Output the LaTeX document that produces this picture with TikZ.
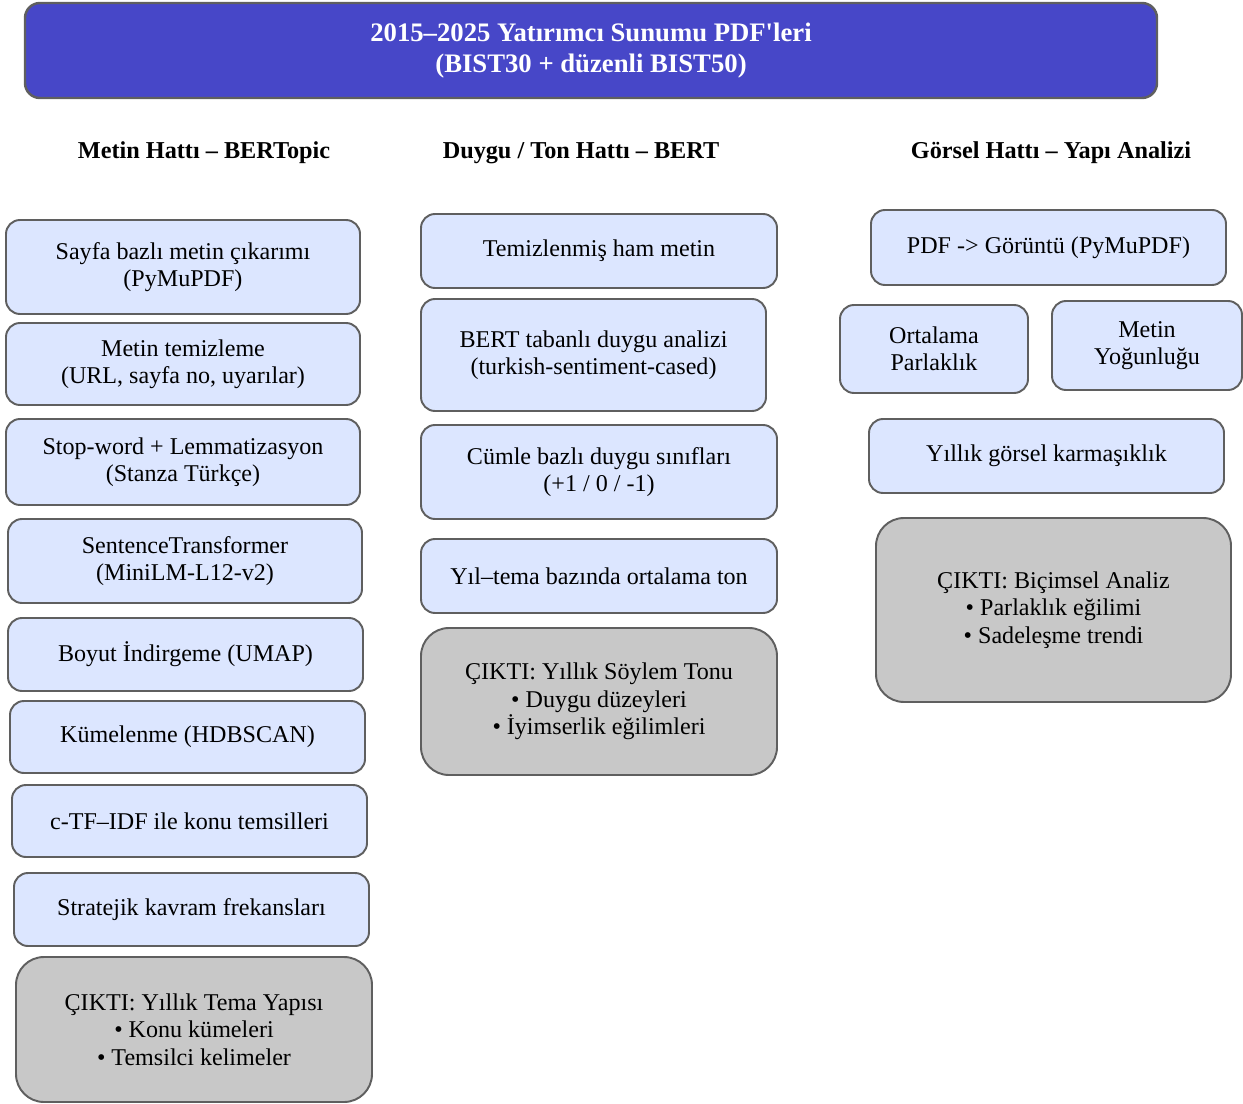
\documentclass[tikz,border=0pt]{standalone}
\usepackage{fontspec}
\setmainfont{Liberation Serif}
\usepackage{tikz}
\usetikzlibrary{positioning}

\definecolor{headblue}{RGB}{71,71,200}
\definecolor{stepfill}{RGB}{220,230,255}
\definecolor{outfill}{RGB}{200,200,200}
\definecolor{boxline}{RGB}{95,95,95}

\begin{document}
\begin{tikzpicture}[x=0.02cm,y=-0.02cm,
    headbox/.style={draw=boxline,line width=1.4pt,rounded corners=0.3cm,fill=headblue,
        text=white,font=\fontsize{15.2}{17.6}\selectfont\bfseries,align=center,inner sep=0pt},
    colhead/.style={font=\fontsize{13.8}{15}\selectfont\bfseries,inner sep=0pt},
    stepbox/.style={draw=boxline,line width=1.1pt,rounded corners=0.28cm,fill=stepfill,
        font=\fontsize{13.7}{15.4}\selectfont,align=center,inner sep=0pt},
    outbox/.style={draw=boxline,line width=1.1pt,rounded corners=0.56cm,fill=outfill,
        font=\fontsize{13.7}{15.6}\selectfont,align=center,inner sep=0pt}]
    \def\u{0.02cm}
    \useasboundingbox (0,0) rectangle (1243,1104);

    % header
    \node[headbox,minimum width=1132*\u,minimum height=95*\u] (src) at (591,50.5)
        {2015--2025 Yatırımcı Sunumu PDF\textquotesingle leri\\(BIST30 + düzenli BIST50)};

    % column headings
    \node[colhead] (hText) at (204,153) {Metin Hattı -- BERTopic};
    \node[colhead] (hTone) at (581,153) {Duygu / Ton Hattı -- BERT};
    \node[colhead] (hVis) at (1051,153) {Görsel Hattı -- Yapı Analizi};

    % text pipeline
    \node[stepbox,minimum width=354*\u,minimum height=94*\u] (tExtract) at (183,267)
        {Sayfa bazlı metin çıkarımı\\(PyMuPDF)};
    \node[stepbox,minimum width=354*\u,minimum height=82*\u] (tClean) at (183,364)
        {Metin temizleme\\(URL, sayfa no, uyarılar)};
    \node[stepbox,minimum width=354*\u,minimum height=86*\u] (tLemma) at (183,462)
        {Stop-word + Lemmatizasyon\\(Stanza Türkçe)};
    \node[stepbox,minimum width=354*\u,minimum height=84*\u] (tEmbed) at (185,561)
        {SentenceTransformer\\(MiniLM-L12-v2)};
    \node[stepbox,minimum width=355*\u,minimum height=73*\u] (tUmap) at (185.5,654.5)
        {Boyut İndirgeme (UMAP)};
    \node[stepbox,minimum width=355*\u,minimum height=72*\u] (tCluster) at (187.5,737)
        {Kümelenme (HDBSCAN)};
    \node[stepbox,minimum width=355*\u,minimum height=72*\u] (tCtfidf) at (189.5,821)
        {c-TF--IDF ile konu temsilleri};
    \node[stepbox,minimum width=355*\u,minimum height=73*\u] (tFreq) at (191.5,909.5)
        {Stratejik kavram frekansları};
    \node[outbox,minimum width=356*\u,minimum height=145*\u] (tOut) at (194,1029.5)
        {ÇIKTI: Yıllık Tema Yapısı\\• Konu kümeleri\\• Temsilci kelimeler};

    % tone pipeline
    \node[stepbox,minimum width=356*\u,minimum height=74*\u] (sRaw) at (599,251)
        {Temizlenmiş ham metin};
    \node[stepbox,minimum width=345*\u,minimum height=112*\u] (sBert) at (593.5,355)
        {BERT tabanlı duygu analizi\\(turkish-sentiment-cased)};
    \node[stepbox,minimum width=356*\u,minimum height=94*\u] (sClass) at (599,472)
        {Cümle bazlı duygu sınıfları\\(+1 / 0 / -1)};
    \node[stepbox,minimum width=356*\u,minimum height=74*\u] (sMean) at (599,576)
        {Yıl--tema bazında ortalama ton};
    \node[outbox,minimum width=356*\u,minimum height=147*\u] (sOut) at (599,701.5)
        {ÇIKTI: Yıllık Söylem Tonu\\• Duygu düzeyleri\\• İyimserlik eğilimleri};

    % visual pipeline
    \node[stepbox,minimum width=355*\u,minimum height=75*\u] (vImg) at (1048.5,247.5)
        {PDF -> Görüntü (PyMuPDF)};
    \node[stepbox,minimum width=188*\u,minimum height=88*\u] (vBright) at (934,349)
        {Ortalama\\Parlaklık};
    \node[stepbox,minimum width=190*\u,minimum height=89*\u] (vDense) at (1147,345.5)
        {Metin\\Yoğunluğu};
    \node[stepbox,minimum width=355*\u,minimum height=74*\u] (vComplex) at (1046.5,456)
        {Yıllık görsel karmaşıklık};
    \node[outbox,minimum width=355*\u,minimum height=184*\u] (vOut) at (1053.5,610)
        {ÇIKTI: Biçimsel Analiz\\• Parlaklık eğilimi\\• Sadeleşme trendi};
\end{tikzpicture}
\end{document}
